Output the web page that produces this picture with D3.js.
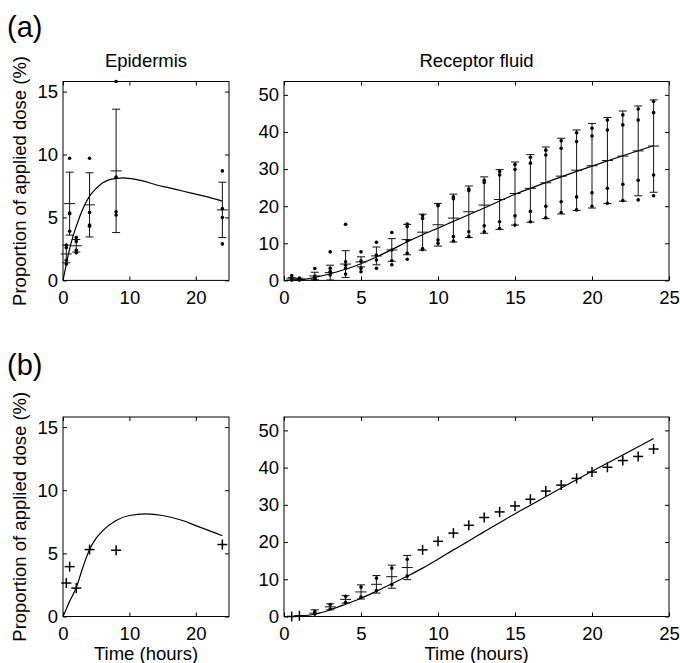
<!DOCTYPE html>
<html>
<head>
<meta charset="utf-8">
<script src="https://cdn.jsdelivr.net/npm/d3@7"></script>
<style>
    body { margin: 0; background: #fff; }
    svg text { font-family: "Liberation Sans", Arial, Helvetica, sans-serif; fill: #000; }
</style>
</head>
<body>
<svg id="chart" width="680" height="663"></svg>
<script>
"use strict";

// Sampling times (hours)
const epiTimes = [0.5, 1, 2, 4, 8, 24];
const recTimes = [0.5, 1, 2, 3, 4, 5, 6, 7, 8, 9, 10, 11, 12, 13, 14, 15, 16, 17, 18, 19, 20, 21, 22, 23, 24];

// (a) Epidermis: replicate values, means and error bar half-lengths
const epiPointsA = [
    [2.8, 2.6, 1.6, 1.3],
    [9.7, 5.35, 5.3, 3.9],
    [3.4, 3.1, 2.4, 2.2],
    [9.7, 5.4, 4.4, 4.3],
    [15.8, 8.2, 5.45, 5.2],
    [8.7, 5.7, 5.0, 2.9]
];
const epiMeanA = [2.1, 6.1, 2.75, 6.0, 8.7, 5.6];
const epiErrA = [0.7, 2.5, 0.5, 2.55, 4.9, 2.2];

// (a) Epidermis model curve
const epiModelTimesA = [0, 0.5, 1, 1.5, 2, 3, 4, 5, 6, 7, 8, 9, 10, 12, 14, 16, 18, 20, 22, 24];
const epiModelA = [0, 1.3, 2.5, 3.5, 4.3, 5.7, 6.7, 7.3, 7.75, 8.0, 8.1, 8.15, 8.1, 7.9, 7.6, 7.35, 7.1, 6.85, 6.6, 6.3];

// (a) Receptor fluid: replicate values, means and error bar half-lengths
const recPointsA = [
    [1.3, 0.5, 0.2, 0.1],
    [0.6, 0.4, 0.2, 0.1],
    [3.2, 1.2, 0.6, 0.3],
    [7.7, 3.25, 2.4, 1.45],
    [15.1, 5.0, 4.1, 3.25, 1.7],
    [7.7, 5.2, 3.25, 2.35],
    [10.25, 6.8, 5.5, 3.25],
    [12.9, 8.2, 5.3, 4.2],
    [15.2, 14.5, 10.7, 7.3, 5.7],
    [17.5, 16.7, 8.6, 8.3],
    [20.3, 20.1, 10.9, 10.0],
    [22.5, 22.0, 11.8, 10.6],
    [24.6, 24.2, 13.1, 11.8],
    [27.0, 26.4, 14.7, 13.1],
    [29.3, 28.4, 15.8, 14.0],
    [31.2, 29.9, 17.4, 14.9],
    [33.2, 31.6, 18.6, 15.8],
    [35.1, 33.8, 20.0, 16.9],
    [37.6, 35.6, 21.2, 18.3],
    [39.8, 37.4, 22.5, 19.0],
    [41.0, 38.9, 23.6, 20.0],
    [43.2, 40.5, 24.8, 20.8],
    [44.6, 41.9, 25.9, 21.5],
    [46.2, 43.2, 27.0, 21.7],
    [48.2, 45.2, 28.4, 22.8]
];
const recMeanA = [0.4, 0.3, 1.2, 2.1, 4.4, 5.0, 6.6, 8.2, 11.0, 13.0, 15.0, 16.8, 18.5, 20.3, 21.8, 23.4, 24.8, 26.3, 28.1, 29.7, 30.9, 32.3, 33.5, 34.9, 36.2];
const recErrA = [0.4, 0.3, 1.0, 2.0, 3.6, 1.35, 2.4, 3.05, 4.1, 4.85, 5.75, 6.45, 6.95, 7.6, 8.05, 8.5, 9.1, 9.65, 10.2, 10.85, 11.4, 11.6, 12.15, 12.1, 12.45];

// (a) Receptor fluid model curve
const recModelTimesA = [0.5, 1, 2, 3, 4, 5, 6, 7, 8, 9, 10, 11, 12, 13, 14, 15, 16, 18, 20, 22, 24];
const recModelA = [0, 0.1, 0.8, 1.8, 3.0, 4.5, 6.3, 8.3, 10.4, 12.3, 14.1, 15.9, 17.7, 19.5, 21.4, 23.2, 24.8, 27.9, 30.8, 33.6, 36.3];

// (b) Epidermis: single values and model
const epiMeanB = [2.65, 3.95, 2.25, 5.3, 5.25, 5.7];
const epiModelTimesB = [0, 0.5, 1, 2, 3, 4, 5, 6, 8, 10, 12.5, 15, 18, 20, 22, 24];
const epiModelB = [0, 0.6, 1.2, 2.3, 3.9, 5.3, 6.2, 6.8, 7.6, 8.0, 8.12, 8.0, 7.6, 7.2, 6.8, 6.4];

// (b) Receptor fluid: means, error bars (0 = plain marker) and replicates
const recMeanB = [0, 0.2, 0.9, 2.6, 4.6, 6.6, 8.65, 10.7, 13.15, 17.9, 20.2, 22.4, 24.5, 26.6, 28.1, 29.7, 31.5, 33.7, 35.3, 37.1, 38.8, 40.1, 41.9, 43.0, 45.0];
const recErrB = [0, 0, 0.9, 0.8, 1.0, 1.9, 2.35, 3.1, 3.25, 0, 0, 0, 0, 0, 0, 0, 0, 0, 0, 0, 0, 0, 0, 0, 0];
const recPointsB = [
    [], [],
    [1.3, 0.7], [3.2, 2.0], [5.4, 3.8], [7.9, 5.2], [10.3, 7.0], [13.0, 8.6], [15.4, 10.9],
    [], [], [], [], [], [], [], [], [], [], [], [], [], [], [], []
];
const recModelTimesB = [0.5, 1, 2, 3, 4, 5, 6, 7, 8, 9, 10, 11, 12, 13, 14, 15, 16, 18, 20, 22, 24];
const recModelB = [0, 0.1, 0.6, 1.8, 3.3, 4.9, 6.8, 8.8, 10.8, 13.0, 15.4, 17.9, 20.3, 22.8, 25.2, 27.6, 29.9, 34.5, 39.0, 43.4, 47.8];

// Tick values
const epiXTicks = [0, 10, 20], epiYTicks = [0, 5, 10, 15];
const recXTicks = [0, 5, 10, 15, 20, 25], recYTicks = [0, 10, 20, 30, 40, 50];

const svg = d3.select("#chart");
const fontSize = 18.5;

function styleAxis(sel) {
    sel.select(".domain").remove();
    sel.selectAll("line").attr("stroke", "#000");
    sel.attr("font-size", fontSize).attr("font-family", null);
}

function drawPanel(p) {
    const x = d3.scaleLinear().domain([0, 25]).range(p.xRange);
    const y = d3.scaleLinear().domain([0, p.yMax]).range([p.yRange[1], p.yRange[0]]);
    const g = svg.append("g");

    g.append("g")
        .attr("transform", `translate(0,${p.yRange[1]})`)
        .call(d3.axisBottom(x).tickValues(p.xTicks).tickSizeInner(-4).tickSizeOuter(0).tickPadding(10.5))
        .call(styleAxis);
    g.append("g")
        .attr("transform", `translate(0,${p.yRange[0]})`)
        .call(d3.axisTop(x).tickValues(p.xTicks).tickSizeInner(-4).tickSizeOuter(0).tickFormat(""))
        .call(styleAxis);
    g.append("g")
        .attr("transform", `translate(${p.xRange[0]},0)`)
        .call(d3.axisLeft(y).tickValues(p.yTicks).tickSizeInner(-4).tickSizeOuter(0).tickPadding(5))
        .call(styleAxis);
    g.append("g")
        .attr("transform", `translate(${p.xRange[1]},0)`)
        .call(d3.axisRight(y).tickValues(p.yTicks).tickSizeInner(-4).tickSizeOuter(0).tickFormat(""))
        .call(styleAxis);

    g.append("rect")
        .attr("x", p.xRange[0]).attr("y", p.yRange[0])
        .attr("width", p.xRange[1] - p.xRange[0])
        .attr("height", p.yRange[1] - p.yRange[0])
        .attr("fill", "none").attr("stroke", "#000").attr("stroke-width", 1);

    // model curve
    const line = d3.line()
        .x((d) => x(d[0]))
        .y((d) => y(d[1]))
        .curve(d3.curveMonotoneX);
    g.append("path")
        .datum(p.modelTimes.map((t, i) => [t, p.model[i]]))
        .attr("d", line)
        .attr("fill", "none").attr("stroke", "#000").attr("stroke-width", 1.2);

    const obs = p.times.map((t, i) => ({
        t: t,
        mean: p.means[i],
        err: p.errs ? p.errs[i] : 0,
        pts: p.points ? p.points[i] : []
    }));

    const marks = g.selectAll("g.obs").data(obs).join("g").attr("class", "obs");

    // error bars with caps and mean line
    const withErr = marks.filter((d) => d.err > 0);
    withErr.append("line")
        .attr("x1", (d) => x(d.t)).attr("x2", (d) => x(d.t))
        .attr("y1", (d) => y(d.mean - d.err)).attr("y2", (d) => y(d.mean + d.err))
        .attr("stroke", "#111").attr("stroke-width", 1);
    [-1, 1].forEach((s) => {
        withErr.append("line")
            .attr("x1", (d) => x(d.t) - 4).attr("x2", (d) => x(d.t) + 4)
            .attr("y1", (d) => y(d.mean + s * d.err)).attr("y2", (d) => y(d.mean + s * d.err))
            .attr("stroke", "#111").attr("stroke-width", 1);
    });
    withErr.append("line")
        .attr("x1", (d) => x(d.t) - 5.5).attr("x2", (d) => x(d.t) + 5.5)
        .attr("y1", (d) => y(d.mean)).attr("y2", (d) => y(d.mean))
        .attr("stroke", "#111").attr("stroke-width", 1);

    // plain "+" markers
    const plain = marks.filter((d) => !(d.err > 0));
    plain.append("line")
        .attr("x1", (d) => x(d.t) - 5).attr("x2", (d) => x(d.t) + 5)
        .attr("y1", (d) => y(d.mean)).attr("y2", (d) => y(d.mean))
        .attr("stroke", "#000").attr("stroke-width", 1.5);
    plain.append("line")
        .attr("x1", (d) => x(d.t)).attr("x2", (d) => x(d.t))
        .attr("y1", (d) => y(d.mean) - 5).attr("y2", (d) => y(d.mean) + 5)
        .attr("stroke", "#000").attr("stroke-width", 1.5);

    // replicate dots
    marks.selectAll("circle")
        .data((d) => d.pts.map((v) => ({t: d.t, v: v})))
        .join("circle")
        .attr("cx", (d) => x(d.t))
        .attr("cy", (d) => y(d.v))
        .attr("r", 1.8)
        .attr("fill", "#000");

    if (p.title) {
        g.append("text")
            .attr("x", (p.xRange[0] + p.xRange[1]) / 2)
            .attr("y", p.yRange[0] - 14.5)
            .attr("text-anchor", "middle")
            .attr("font-size", fontSize)
            .text(p.title);
    }
    if (p.xLabel) {
        g.append("text")
            .attr("x", (p.xRange[0] + p.xRange[1]) / 2)
            .attr("y", p.yRange[1] + 43)
            .attr("text-anchor", "middle")
            .attr("font-size", fontSize)
            .text(p.xLabel);
    }
    if (p.yLabel) {
        g.append("text")
            .attr("transform", `translate(26,${(p.yRange[0] + p.yRange[1]) / 2}) rotate(-90)`)
            .attr("text-anchor", "middle")
            .attr("font-size", fontSize)
            .text(p.yLabel);
    }
}

const leftX = [63, 229], rightX = [284, 669];
const rowA = [81.5, 280.4], rowB = [417, 616.5];
const yLabel = "Proportion of applied dose (%)";

drawPanel({
    xRange: leftX, yRange: rowA, yMax: 15.8, xTicks: epiXTicks, yTicks: epiYTicks,
    times: epiTimes, means: epiMeanA, errs: epiErrA, points: epiPointsA,
    modelTimes: epiModelTimesA, model: epiModelA,
    title: "Epidermis", yLabel: yLabel
});
drawPanel({
    xRange: rightX, yRange: rowA, yMax: 53.6, xTicks: recXTicks, yTicks: recYTicks,
    times: recTimes, means: recMeanA, errs: recErrA, points: recPointsA,
    modelTimes: recModelTimesA, model: recModelA,
    title: "Receptor fluid"
});
drawPanel({
    xRange: leftX, yRange: rowB, yMax: 15.8, xTicks: epiXTicks, yTicks: epiYTicks,
    times: epiTimes, means: epiMeanB,
    modelTimes: epiModelTimesB, model: epiModelB,
    xLabel: "Time (hours)", yLabel: yLabel
});
drawPanel({
    xRange: rightX, yRange: rowB, yMax: 53.6, xTicks: recXTicks, yTicks: recYTicks,
    times: recTimes, means: recMeanB, errs: recErrB, points: recPointsB,
    modelTimes: recModelTimesB, model: recModelB,
    xLabel: "Time (hours)"
});

// panel letters
svg.append("text").attr("x", 7).attr("y", 37).attr("font-size", 29).text("(a)");
svg.append("text").attr("x", 7).attr("y", 374.5).attr("font-size", 29).text("(b)");
</script>
</body>
</html>
